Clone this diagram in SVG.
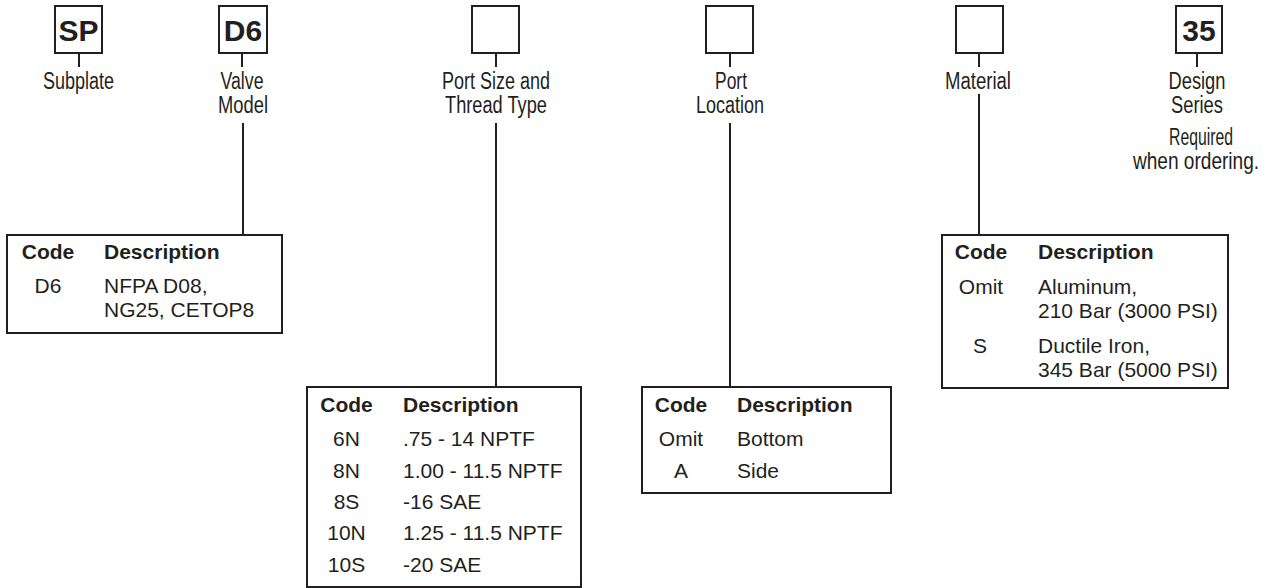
<svg xmlns="http://www.w3.org/2000/svg" width="1268" height="588" viewBox="0 0 1268 588">
<style>
.bx{fill:#fff;stroke:#231f20;stroke-width:2}
.ln{stroke:#231f20;stroke-width:2;fill:none}
.big{font-family:"Liberation Sans",Arial,sans-serif;font-weight:bold;font-size:30px;fill:#231f20;text-anchor:middle}
.lb{font-family:"Liberation Sans",Arial,sans-serif;font-size:23px;fill:#231f20;text-anchor:middle}
.t{font-family:"Liberation Sans",Arial,sans-serif;font-size:21px;fill:#231f20}
.h{font-weight:bold}
.c{text-anchor:middle}
</style>
<rect width="1268" height="588" fill="#fff"/>
<g id="connectors">
<line class="ln" x1="79" y1="53" x2="79" y2="67"/>
<line class="ln" x1="242" y1="53" x2="242" y2="67"/>
<line class="ln" x1="243" y1="123" x2="243" y2="235"/>
<line class="ln" x1="496" y1="53" x2="496" y2="67"/>
<line class="ln" x1="496" y1="123" x2="496" y2="387"/>
<line class="ln" x1="730" y1="53" x2="730" y2="67"/>
<line class="ln" x1="730" y1="123" x2="730" y2="387"/>
<line class="ln" x1="979" y1="53" x2="979" y2="67"/>
<line class="ln" x1="979" y1="94" x2="979" y2="235"/>
<line class="ln" x1="1197" y1="53" x2="1197" y2="67"/>
</g>
<g id="sp">
<rect class="bx" x="55" y="6" width="47" height="47"/>
<text class="big" x="78.5" y="41">SP</text>
<text class="lb" x="78.5" y="89" textLength="71" lengthAdjust="spacingAndGlyphs">Subplate</text>
</g>
<g id="d6">
<rect class="bx" x="219" y="6" width="48" height="47"/>
<text class="big" x="243" y="41">D6</text>
<text class="lb" x="242" y="89" textLength="43" lengthAdjust="spacingAndGlyphs">Valve</text>
<text class="lb" x="243" y="113" textLength="50" lengthAdjust="spacingAndGlyphs">Model</text>
</g>
<g id="portsize">
<rect class="bx" x="472" y="6" width="47" height="47"/>
<text class="lb" x="496" y="89" textLength="108" lengthAdjust="spacingAndGlyphs">Port Size and</text>
<text class="lb" x="496" y="113" textLength="102" lengthAdjust="spacingAndGlyphs">Thread Type</text>
</g>
<g id="portloc">
<rect class="bx" x="706" y="6" width="47" height="47"/>
<text class="lb" x="731" y="89" textLength="32" lengthAdjust="spacingAndGlyphs">Port</text>
<text class="lb" x="730" y="113" textLength="68" lengthAdjust="spacingAndGlyphs">Location</text>
</g>
<g id="material">
<rect class="bx" x="956" y="6" width="47" height="47"/>
<text class="lb" x="978" y="89" textLength="66" lengthAdjust="spacingAndGlyphs">Material</text>
</g>
<g id="series">
<rect class="bx" x="1176" y="6" width="46" height="47"/>
<text class="big" x="1199" y="41">35</text>
<text class="lb" x="1197" y="89" textLength="57" lengthAdjust="spacingAndGlyphs">Design</text>
<text class="lb" x="1197" y="113" textLength="52" lengthAdjust="spacingAndGlyphs">Series</text>
<text class="lb" x="1201" y="145" textLength="64" lengthAdjust="spacingAndGlyphs">Required</text>
<text class="lb" transform="translate(1196 169) scale(0.83 1)">when ordering.</text>
</g>
<g id="table-d6">
<rect class="bx" x="7" y="235" width="275" height="98"/>
<text class="t h c" x="48" y="258.5">Code</text>
<text class="t h" x="104" y="258.5">Description</text>
<text class="t c" x="48" y="293">D6</text>
<text class="t" x="104" y="293">NFPA D08,</text>
<text class="t" x="104" y="316.5">NG25, CETOP8</text>
</g>
<g id="table-portsize">
<rect class="bx" x="307" y="387" width="274" height="200"/>
<text class="t h c" x="346.5" y="412">Code</text>
<text class="t h" x="403" y="412">Description</text>
<text class="t c" x="346.5" y="446">6N</text>
<text class="t" x="403" y="446">.75 - 14 NPTF</text>
<text class="t c" x="346.5" y="477.5">8N</text>
<text class="t" x="403" y="477.5">1.00 - 11.5 NPTF</text>
<text class="t c" x="346.5" y="508.5">8S</text>
<text class="t" x="403" y="508.5">-16 SAE</text>
<text class="t c" x="346.5" y="540">10N</text>
<text class="t" x="403" y="540">1.25 - 11.5 NPTF</text>
<text class="t c" x="346.5" y="571.5">10S</text>
<text class="t" x="403" y="571.5">-20 SAE</text>
</g>
<g id="table-portloc">
<rect class="bx" x="642" y="387" width="249" height="106"/>
<text class="t h c" x="681" y="412">Code</text>
<text class="t h" x="737" y="412">Description</text>
<text class="t c" x="681" y="446">Omit</text>
<text class="t" x="737" y="446">Bottom</text>
<text class="t c" x="681" y="477.5">A</text>
<text class="t" x="737" y="477.5">Side</text>
</g>
<g id="table-material">
<rect class="bx" x="942" y="235" width="286" height="153"/>
<text class="t h c" x="981" y="258.5">Code</text>
<text class="t h" x="1038" y="258.5">Description</text>
<text class="t c" x="981" y="294">Omit</text>
<text class="t" x="1038" y="294">Aluminum,</text>
<text class="t" x="1038" y="318">210 Bar (3000 PSI)</text>
<text class="t c" x="980" y="352.5">S</text>
<text class="t" x="1038" y="352.5">Ductile Iron,</text>
<text class="t" x="1038" y="376.5">345 Bar (5000 PSI)</text>
</g>
</svg>
